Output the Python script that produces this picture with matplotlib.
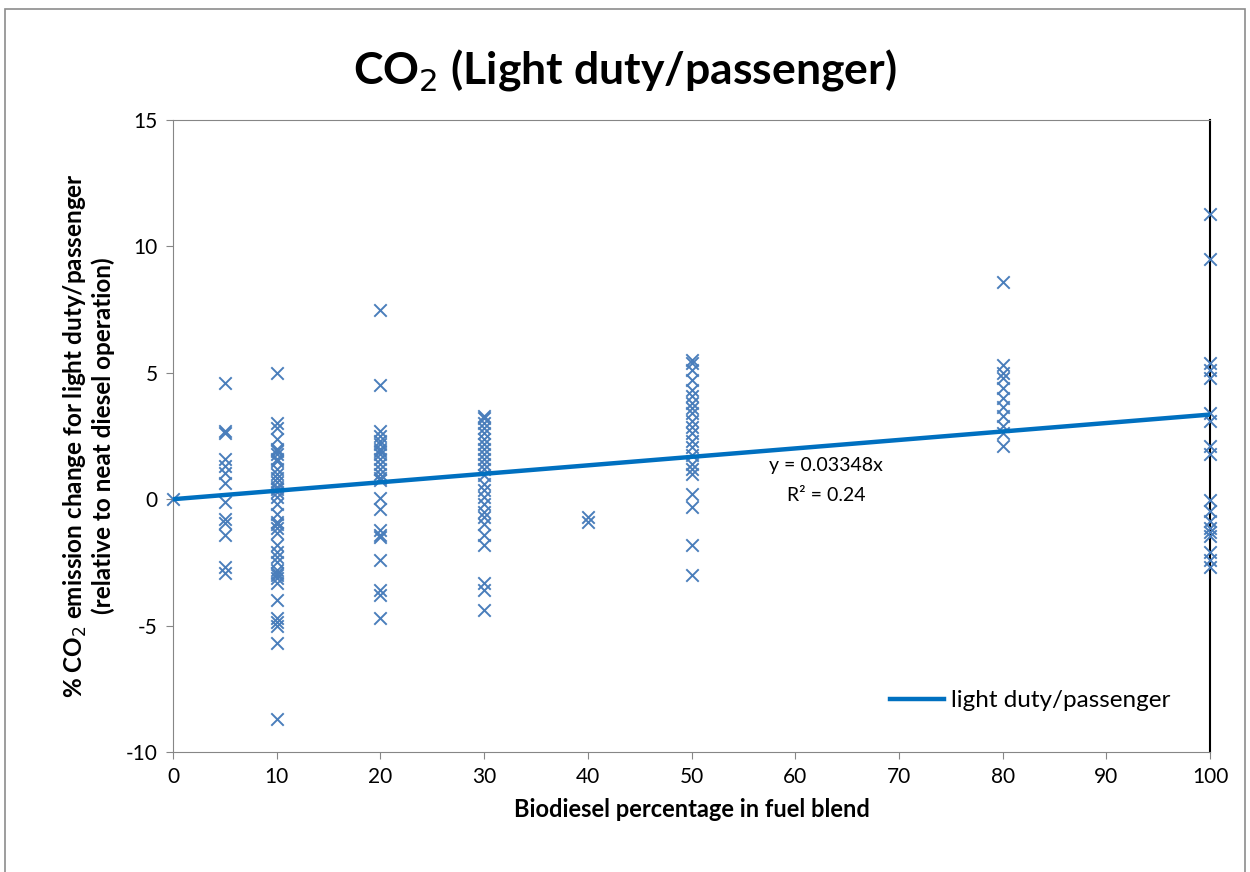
import numpy as np
import matplotlib.pyplot as plt
from matplotlib.patches import Rectangle

plt.rcParams['font.family'] = ['Lato', 'DejaVu Sans']
plt.rcParams['axes.unicode_minus'] = False

# measured CO2 change (%) for each biodiesel blend level
y_b0 = [0.0]
y_b5 = [4.6, 2.7, 2.6, 1.6, 1.3, 1.05, 0.65, -0.1, -0.8, -0.95, -1.4, -2.7, -2.9]
y_b10 = [5.0, 3.0, 2.8, 2.4, 2.0, 1.9, 1.8, 1.6, 1.5, 1.2, 1.0, 0.85, 0.7, 0.5, 0.4,
         0.3, 0.1, -0.2, -0.6, -0.9, -1.0, -1.15, -1.35, -1.8, -2.1, -2.3, -2.5, -2.8,
         -2.9, -3.0, -3.1, -3.3, -4.0, -4.7, -4.85, -5.0, -5.7, -8.7]
y_b20 = [7.5, 4.5, 2.7, 2.5, 2.3, 2.2, 2.0, 1.9, 1.8, 1.6, 1.4, 1.2, 1.0, 0.85, 0.75,
         0.05, -0.4, -1.2, -1.4, -1.5, -2.4, -3.6, -3.8, -4.7]
y_b30 = [3.3, 3.2, 3.0, 2.8, 2.6, 2.4, 2.2, 2.0, 1.8, 1.6, 1.4, 1.2, 0.95, 0.6, 0.35,
         0.1, -0.2, -0.5, -0.7, -1.0, -1.4, -1.8, -3.3, -3.6, -4.4]
y_b40 = [-0.7, -0.9]
y_b50 = [5.5, 5.4, 5.1, 4.7, 4.3, 4.1, 3.8, 3.6, 3.4, 3.1, 2.85, 2.6, 2.3, 2.05, 1.75,
         1.4, 1.2, 1.0, 0.2, -0.3, -1.8, -3.0]
y_b80 = [8.6, 5.3, 5.0, 4.8, 4.4, 4.0, 3.65, 3.3, 2.9, 2.6, 2.1]
y_b100 = [11.3, 9.5, 5.4, 5.1, 4.8, 3.4, 3.1, 2.1, 1.8, -0.05, -0.45, -0.85, -1.15,
          -1.3, -1.45, -2.1, -2.4, -2.7]

blends = [0, 5, 10, 20, 30, 40, 50, 80, 100]
groups = [y_b0, y_b5, y_b10, y_b20, y_b30, y_b40, y_b50, y_b80, y_b100]

slope = 0.03348
r2 = 0.24

xs = np.concatenate([[b] * len(g) for b, g in zip(blends, groups)])
ys = np.concatenate(groups)

fig = plt.figure(figsize=(12.5, 8.72), dpi=100)
ax = fig.add_axes([0.1384, 0.1376, 0.8296, 0.7248])

# outer chart border
fig.patches.append(Rectangle((0.004, -0.01), 0.992, 1.0, transform=fig.transFigure,
                             fill=False, edgecolor='#8c8c8c', linewidth=1.2))

ax.scatter(xs, ys, marker='x', s=80, color='#4a7ebb', linewidths=1.4, zorder=3,
           clip_on=False)

fx = np.array([0, 100])
ax.plot(fx, slope * fx, color='#0070c0', linewidth=3.2, zorder=4,
        label='light duty/passenger')

ax.text(63, 1.34, 'y = 0.03348x', ha='center', va='center', fontsize=14)
ax.text(63, 0.16, 'R² = %.2f' % r2, ha='center', va='center', fontsize=14)

ax.set_xlim(0, 100)
ax.set_ylim(-10, 15)
ax.set_xticks(np.arange(0, 101, 10))
ax.set_yticks([-10, -5, 0, 5, 10, 15])
ax.tick_params(labelsize=15, color='#868686', direction='out', length=5, pad=6)

for s in ['left', 'bottom', 'top']:
    ax.spines[s].set_color('#868686')
ax.spines['right'].set_color('black')
ax.spines['right'].set_linewidth(1.5)

ax.set_xlabel('Biodiesel percentage in fuel blend', fontsize=17, fontweight='bold', labelpad=8)
ax.set_ylabel('% CO$_2$ emission change for light duty/passenger\n'
              '(relative to neat diesel operation)', fontsize=17.5, fontweight='bold',
              labelpad=8, linespacing=1.1)

fig.text(0.5, 0.92, 'CO$_2$ (Light duty/passenger)', ha='center', va='center',
         fontsize=32, fontweight='bold')

leg = ax.legend(loc='lower right', frameon=False, fontsize=17.5, handlelength=2.2,
                handletextpad=0.3, bbox_to_anchor=(0.983, 0.03))

fig.savefig('out.png', dpi=100)
